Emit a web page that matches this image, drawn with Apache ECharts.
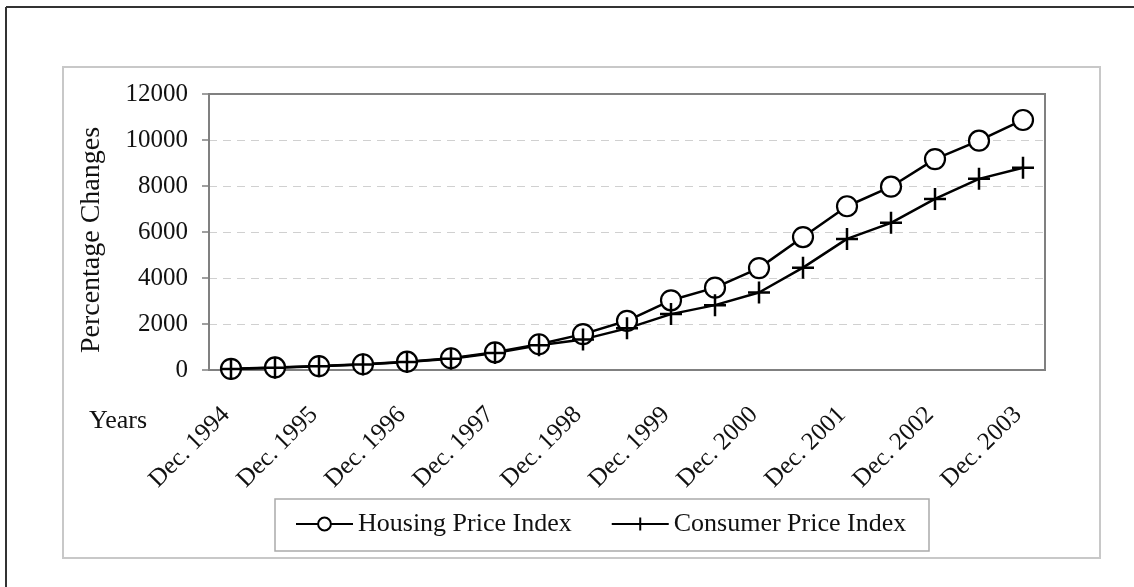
<!DOCTYPE html>
<html>
<head>
<meta charset="utf-8">
<script src="https://cdn.jsdelivr.net/npm/echarts@6/dist/echarts.min.js"></script>
<style>
html,body{margin:0;padding:0;background:#fff;}
#chart{width:1134px;height:587px;}
</style>
</head>
<body>
<div id="chart"></div>
<script>
const categories = ["Dec. 1994","Jun. 1995","Dec. 1995","Jun. 1996","Dec. 1996","Jun. 1997","Dec. 1997","Jun. 1998","Dec. 1998","Jun. 1999","Dec. 1999","Jun. 2000","Dec. 2000","Jun. 2001","Dec. 2001","Jun. 2002","Dec. 2002","Jun. 2003","Dec. 2003"];
const housingPriceIndex = [50, 110, 170, 250, 360, 510, 770, 1120, 1560, 2140, 3030, 3580, 4430, 5780, 7120, 7970, 9170, 9970, 10870];
const consumerPriceIndex = [40, 100, 160, 240, 350, 490, 740, 1080, 1330, 1810, 2430, 2820, 3370, 4450, 5700, 6400, 7440, 8310, 8790];
const yTicks = [0, 2000, 4000, 6000, 8000, 10000, 12000];

const FONT = '"Liberation Serif", "Times New Roman", serif';
const chart = echarts.init(document.getElementById('chart'));
chart.setOption({
  backgroundColor: '#fff',
  animation: false,
  graphic: [
    {type:'line', shape:{x1:6,y1:7,x2:1134,y2:7}, style:{stroke:'#333',lineWidth:2}},
    {type:'line', shape:{x1:6,y1:7,x2:6,y2:587}, style:{stroke:'#333',lineWidth:2}},
    {type:'rect', shape:{x:63,y:67,width:1037,height:491}, style:{fill:'none',stroke:'#c8c8c8',lineWidth:2}},
    {type:'rect', shape:{x:275,y:499,width:654,height:52}, style:{fill:'#fff',stroke:'#aaa',lineWidth:1.5}, z:1},
    {type:'text', left:89, top:408, style:{text:'Years', font:'26px ' + FONT, fill:'#111'}}
  ],
  grid: {left:209, top:94, right:89, bottom:217, show:true, borderColor:'#808080', borderWidth:2, backgroundColor:'#fff'},
  legend: {
    left: 295, top: 511, z: 5, padding: 0,
    itemWidth: 57, itemHeight: 16, itemGap: 39,
    textStyle: {fontFamily: FONT, fontSize: 26, color:'#111'},
    data: ['Housing Price Index', 'Consumer Price Index']
  },
  xAxis: {
    type: 'category', data: categories, boundaryGap: true,
    axisLine: {lineStyle:{color:'#808080', width:2}},
    axisTick: {interval:0, length:6, lineStyle:{color:'#808080', width:1.5}},
    axisLabel: {interval:1, rotate:45, margin:36, padding:[0,7,0,0], fontFamily: FONT, fontSize:25, color:'#111'}
  },
  yAxis: {
    type: 'value', min: yTicks[0], max: yTicks[yTicks.length-1], interval: 2000,
    name: 'Percentage Changes', nameLocation: 'middle', nameGap: 103, nameRotate: 90,
    nameTextStyle: {fontFamily: FONT, fontSize: 28, color:'#111', padding:[0,16,0,0]},
    axisLine: {show:true, lineStyle:{color:'#808080', width:2}},
    axisTick: {show:true, length:7, lineStyle:{color:'#808080', width:1.5}},
    axisLabel: {margin:21, fontFamily: FONT, fontSize:25, color:'#111', formatter: v => String(v)},
    splitLine: {showMinLine:false, showMaxLine:false, lineStyle:{color:'#d0d0d0', type:[8,6], width:1}}
  },
  series: [
    {
      name: 'Housing Price Index', type: 'line', data: housingPriceIndex,
      symbol: 'circle', symbolSize: 20, showAllSymbol: true,
      lineStyle: {color:'#000', width:2.5},
      itemStyle: {color:'#fff', borderColor:'#000', borderWidth:2.2}
    },
    {
      name: 'Consumer Price Index', type: 'line', data: consumerPriceIndex,
      symbol: 'path://M5,0L5,10M0,5L10,5', symbolSize: 22, showAllSymbol: true,
      lineStyle: {color:'#000', width:2.5},
      itemStyle: {color:'rgba(0,0,0,0)', borderColor:'#000', borderWidth:2.5}
    }
  ]
});
</script>
</body>
</html>
